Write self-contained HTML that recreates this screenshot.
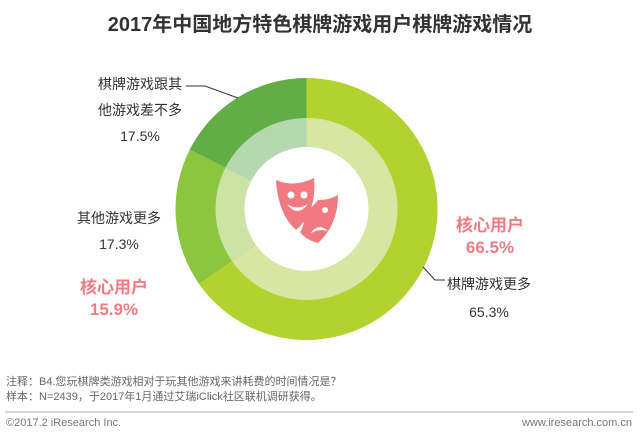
<!DOCTYPE html>
<html><head><meta charset="utf-8"><style>
body{margin:0;width:640px;height:437px;background:#fff;overflow:hidden;position:relative;font-family:"Liberation Sans","Noto Sans CJK SC",sans-serif;}
.t{position:absolute;white-space:nowrap;}
</style></head><body>
<div class="t" style="left:0;width:640px;top:8px;text-align:center;font-size:20px;font-weight:bold;color:#333;">2017年中国地方特色棋牌游戏用户棋牌游戏情况</div>
<svg width="640" height="437" style="position:absolute;left:0;top:0">
<path d="M306.5 209 L306.5 78 A131 131 0 1 1 199.2 284.1 Z" fill="#b1d22f"/>
<path d="M306.5 209 L199.2 284.1 A131 131 0 0 1 189.8 149.5 Z" fill="#8cc63e"/>
<path d="M306.5 209 L189.8 149.5 A131 131 0 0 1 306.5 78 Z" fill="#62ad45"/>
<path d="M306.5 209 L306.5 118 A91 91 0 1 1 232.0 261.2 Z" fill="#d7e7a3"/>
<path d="M306.5 209 L232.0 261.2 A91 91 0 0 1 225.4 167.7 Z" fill="#cbe3a3"/>
<path d="M306.5 209 L225.4 167.7 A91 91 0 0 1 306.5 118 Z" fill="#b6d8b0"/>
<circle cx="306.5" cy="209" r="62" fill="#fff"/>
<g fill="#f07a80">
<path d="M276 180 Q294 188 314 178 Q317 212 296 230 Q278 214 276 180 Z"/>
<path d="M302 214 Q314 206 318 200 Q330 200 338 195 Q338 225 318 243 Q306 240 300 232 Q306 224 302 214 Z"/>
</g>
<g fill="#fff">
<circle cx="291" cy="195" r="3.5"/><circle cx="304" cy="195" r="3.5"/>
<path d="M287 204 Q297 218 308 204 Q297 211 287 204 Z"/>
<circle cx="325" cy="210" r="3"/>
<path d="M310 234 Q318 222 328 231 Q318 228 310 234 Z"/>
</g>
<polyline points="186,86 205,86 238,98" fill="none" stroke="#333" stroke-width="1"/>
<polyline points="423,267 435,280 445,280" fill="none" stroke="#333" stroke-width="1"/>
<line x1="5" y1="412" x2="633" y2="412" stroke="#aaa" stroke-width="1"/>
</svg>
<div class="t" style="left:98px;top:71px;font-size:14px;color:#333;line-height:26px;text-align:center;">棋牌游戏跟其<br>他游戏差不多<br>17.5%</div>
<div class="t" style="left:77px;top:205px;font-size:14px;color:#333;line-height:26px;text-align:center;">其他游戏更多<br>17.3%</div>
<div class="t" style="left:80px;top:277px;font-size:17px;font-weight:bold;color:#ef7c84;line-height:22px;text-align:center;">核心用户<br>15.9%</div>
<div class="t" style="left:456px;top:215px;font-size:17px;font-weight:bold;color:#ef7c84;line-height:22px;text-align:center;">核心用户<br>66.5%</div>
<div class="t" style="left:447px;top:270px;font-size:14px;color:#333;line-height:28px;text-align:center;">棋牌游戏更多<br>65.3%</div>
<div class="t" style="left:6px;top:375px;font-size:11px;color:#666;line-height:15px;">注释：B4.您玩棋牌类游戏相对于玩其他游戏来讲耗费的时间情况是？<br>样本：N=2439，于2017年1月通过艾瑞iClick社区联机调研获得。</div>
<div class="t" style="left:6px;top:417px;font-size:11px;color:#777;">©2017.2 iResearch Inc.</div>
<div class="t" style="right:8px;top:417px;font-size:11px;color:#777;">www.iresearch.com.cn</div>
</body></html>
